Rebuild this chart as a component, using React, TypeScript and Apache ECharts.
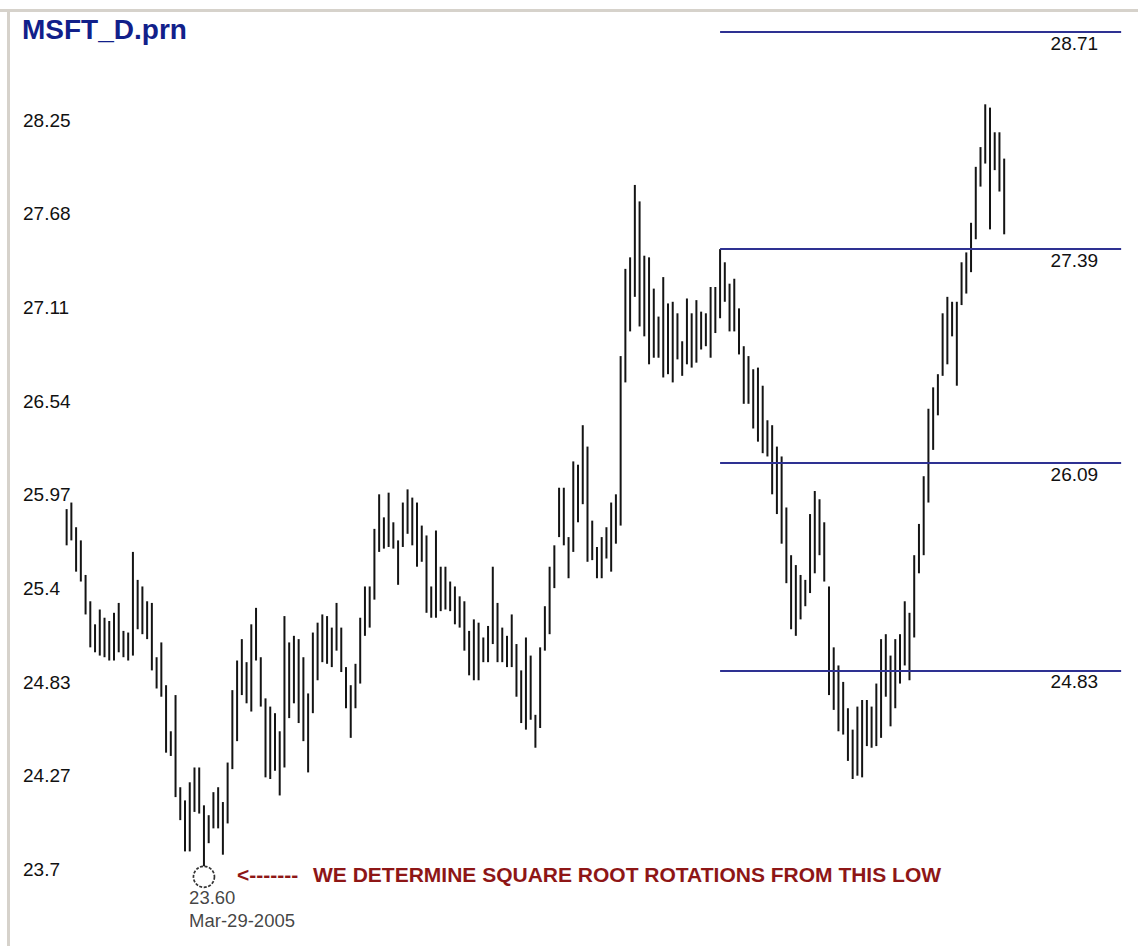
import React, { useEffect, useRef } from "react";
import * as echarts from "echarts";

// ---- data (daily high / low of each bar) ----
const HIGHS = [
  25.81, 25.85, 25.70, 25.62, 25.41, 25.25, 25.11, 25.20, 25.15, 25.13,
  25.18, 25.24, 25.07, 25.06, 25.55, 25.38, 25.34, 25.25, 25.24, 24.91,
  25.00, 24.74, 24.46, 24.68, 24.12, 24.04, 24.15, 24.24, 24.24, 24.01,
  23.95, 24.09, 24.12, 24.03, 24.27, 24.71, 24.89, 25.02, 24.88, 25.11,
  25.21, 24.91, 24.66, 24.61, 24.57, 24.46, 25.16, 25.00, 25.04, 25.02,
  24.91, 24.69, 25.06, 25.12, 25.17, 25.16, 25.09, 25.24,
  25.09, 24.85, 24.74, 24.87, 25.15, 25.34, 25.34, 25.69, 25.90, 25.76,
  25.91, 25.73, 25.62, 25.85, 25.93, 25.88, 25.85, 25.71, 25.65, 25.34,
  25.68, 25.46, 25.46, 25.37, 25.34, 25.28, 25.25, 25.07, 25.14, 25.12,
  25.03, 25.10, 25.46, 25.24, 25.09, 25.04, 25.17, 24.99, 24.83, 25.03,
  24.92, 24.56, 24.97, 25.22, 25.46, 25.59, 25.94, 25.94, 25.64, 26.10,
  26.08, 26.32, 26.19, 25.74, 25.58, 25.64, 25.70, 25.85, 25.90, 26.74,
  27.27, 27.34, 27.78, 27.68, 27.35, 27.34, 27.15, 26.98, 27.22, 27.06,
  27.07, 27.00, 26.83, 27.09, 27.00, 27.08, 27.01, 27.00, 27.16, 27.16,
  27.39, 27.31, 27.18, 27.21, 27.03, 26.80, 26.74, 26.66, 26.67, 26.56,
  26.35, 26.32, 26.19, 26.13, 25.82, 25.53, 25.47, 25.41, 25.38, 25.78,
  25.92, 25.87, 25.73, 25.34, 24.97, 24.86, 24.76, 24.60, 24.47, 24.61,
  24.65, 24.65, 24.61, 24.75, 25.02, 25.05, 24.92, 25.02, 25.05, 25.25,
  25.18, 25.53, 25.72, 26.01, 26.42, 26.55, 26.63, 27.00, 27.10, 27.07,
  27.07, 27.31, 27.37, 27.55, 27.89, 28.01, 28.27, 28.25, 28.10, 28.10,
  27.94,
];

const LOWS = [
  25.59, 25.62, 25.43, 25.37, 25.17, 24.97, 24.94, 24.92, 24.91, 24.89,
  24.89, 24.94, 24.91, 24.89, 24.92, 25.08, 25.05, 25.02, 24.83, 24.72,
  24.67, 24.33, 24.31, 24.06, 23.92, 23.73, 23.73, 23.97, 23.96, 23.64,
  23.78, 23.87, 23.87, 23.71, 23.90, 24.23, 24.40, 24.68, 24.63, 24.58,
  24.89, 24.61, 24.18, 24.17, 24.22, 24.07, 24.24, 24.54, 24.63, 24.51,
  24.40, 24.21, 24.57, 24.77, 24.88, 24.87, 24.85, 24.95,
  24.82, 24.60, 24.42, 24.60, 24.75, 25.04, 25.09, 25.26, 25.55, 25.57,
  25.58, 25.57, 25.35, 25.58, 25.66, 25.59, 25.46, 25.49, 25.18, 25.15,
  25.15, 25.19, 25.20, 25.19, 25.11, 25.09, 24.95, 24.80, 24.77, 24.77,
  24.88, 24.88, 24.99, 24.88, 24.88, 24.85, 24.85, 24.67, 24.51, 24.47,
  24.53, 24.36, 24.48, 24.95, 25.05, 25.33, 25.64, 25.59, 25.39, 25.55,
  25.73, 25.84, 25.49, 25.50, 25.39, 25.39, 25.51, 25.43, 25.60, 25.71,
  26.58, 26.89, 27.10, 26.92, 26.86, 26.69, 26.73, 26.73, 26.61, 26.63,
  26.58, 26.72, 26.62, 26.69, 26.67, 26.70, 26.78, 26.80, 26.73, 26.88,
  26.97, 27.07, 26.89, 26.89, 26.75, 26.45, 26.45, 26.30, 26.22, 26.15,
  26.13, 25.90, 25.78, 25.60, 25.36, 25.08, 25.04, 25.14, 25.22, 25.30,
  25.42, 25.53, 25.37, 24.68, 24.59, 24.46, 24.44, 24.28, 24.17, 24.19,
  24.18, 24.37, 24.36, 24.37, 24.42, 24.67, 24.49, 24.60, 24.75, 24.86,
  24.77, 25.03, 25.42, 25.53, 25.85, 26.17, 26.38, 26.62, 26.69, 26.86,
  26.56, 27.05, 27.12, 27.25, 27.45, 27.77, 27.91, 27.51, 27.87, 27.74,
  27.48,
];

const Y_TICK_LABELS = ["23.7", "24.27", "24.83", "25.4", "25.97", "26.54", "27.11", "27.68", "28.25"];
const Y_MIN = 23.696;
const Y_STEP = 0.5692;

const LEVELS = [28.71, 27.39, 26.09, 24.83];
const LEVEL_LABELS = ["28.71", "27.39", "26.09", "24.83"];
const LEVEL_START_INDEX = 138;
const LEVEL_END_INDEX = 222.7;

const LOW_INDEX = 29;
const LOW_VALUE = 23.6;
const LOW_LABEL = "23.60";
const LOW_DATE = "Mar-29-2005";

const TITLE = "MSFT_D.prn";
const NOTE_ARROW = "<-------";
const NOTE = "WE DETERMINE SQUARE ROOT ROTATIONS FROM THIS LOW";

const FONT = '"Liberation Sans", Arial, Helvetica, sans-serif';

export default function App() {
  const ref = useRef<HTMLDivElement>(null);

  useEffect(() => {
    if (!ref.current) return;
    const chart = echarts.init(ref.current, null, { renderer: "svg" });

    const barData = HIGHS.map((h, i) => [i, LOWS[i], h]);

    const option: any = {
      animation: false,
      backgroundColor: "#ffffff",
      grid: { left: 60, top: 14, width: 1065.4, height: 843 },
      xAxis: { type: "value", min: -1.4, max: 223.6, show: false },
      yAxis: {
        type: "value",
        min: Y_MIN,
        max: Y_MIN + 9 * Y_STEP,
        interval: Y_STEP,
        axisLine: { show: false },
        axisTick: { show: false },
        splitLine: { show: false },
        axisLabel: {
          show: true,
          align: "left",
          verticalAlign: "top",
          margin: 37,
          padding: [3, 0, 0, 0],
          color: "#111",
          fontSize: 19,
          fontFamily: FONT,
          formatter: (v: number) => {
            const i = Math.round((v - Y_MIN) / Y_STEP);
            if (Math.abs(v - (Y_MIN + i * Y_STEP)) > 1e-3) return "";
            return i >= 0 && i < Y_TICK_LABELS.length ? Y_TICK_LABELS[i] : "";
          },
        },
      },
      series: [
        {
          type: "custom",
          data: barData,
          clip: false,
          encode: { x: 0, y: [1, 2] },
          renderItem: (_params: any, api: any) => {
            const x = api.value(0);
            const p1 = api.coord([x, api.value(1)]);
            const p2 = api.coord([x, api.value(2)]);
            return {
              type: "line",
              shape: { x1: p1[0], y1: p1[1], x2: p2[0], y2: p2[1] },
              style: { stroke: "#141414", lineWidth: 2 },
            };
          },
        },
        {
          type: "scatter",
          data: [[LOW_INDEX, LOW_VALUE]],
          clip: false,
          symbol: "circle",
          symbolSize: 21,
          symbolOffset: [0, 4],
          itemStyle: {
            color: "rgba(255,255,255,0)",
            borderColor: "#000",
            borderWidth: 1.7,
            borderType: [3, 1.5],
          },
          label: {
            show: true,
            position: [-3.5, 21],
            align: "left",
            verticalAlign: "top",
            formatter: LOW_LABEL + "\n" + LOW_DATE,
            fontSize: 18.5,
            lineHeight: 23,
            color: "#111",
            fontFamily: FONT,
          },
          markLine: {
            silent: true,
            symbol: ["none", "none"],
            lineStyle: { color: "#2e3192", width: 2, type: "solid" },
            label: {
              show: true,
              position: "insideEndBottom",
              formatter: "{b}",
              color: "#111",
              fontSize: 19,
              fontFamily: FONT,
              distance: [23, 2],
            },
            data: LEVELS.map((v, i) => [
              { coord: [LEVEL_START_INDEX, v], name: LEVEL_LABELS[i] },
              { coord: [LEVEL_END_INDEX, v] },
            ]),
          },
        },
      ],
      graphic: [
        { type: "rect", silent: true, shape: { x: 0, y: 9, width: 1138, height: 3 }, style: { fill: "#d6d2cb" } },
        { type: "rect", silent: true, shape: { x: 7, y: 9, width: 3, height: 937 }, style: { fill: "#d6d2cb" } },
        {
          type: "text",
          silent: true,
          x: 22,
          y: 29,
          style: {
            text: TITLE,
            fill: "#11208a",
            fontSize: 28,
            fontWeight: "bold",
            fontFamily: FONT,
            verticalAlign: "middle",
          },
        },
        {
          type: "text",
          silent: true,
          x: 237,
          y: 874,
          style: {
            text: NOTE_ARROW,
            fill: "#8e1616",
            fontSize: 21,
            fontWeight: "bold",
            fontFamily: FONT,
            verticalAlign: "middle",
          },
        },
        {
          type: "text",
          silent: true,
          x: 313,
          y: 874,
          style: {
            text: NOTE,
            fill: "#8e1616",
            fontSize: 21,
            fontWeight: "bold",
            fontFamily: FONT,
            verticalAlign: "middle",
          },
        },
      ],
    };

    chart.setOption(option);
    return () => chart.dispose();
  }, []);

  return (
    <div
      ref={ref}
      style={{ position: "fixed", left: 0, top: 0, width: 1138, height: 946, background: "#fff" }}
    />
  );
}
